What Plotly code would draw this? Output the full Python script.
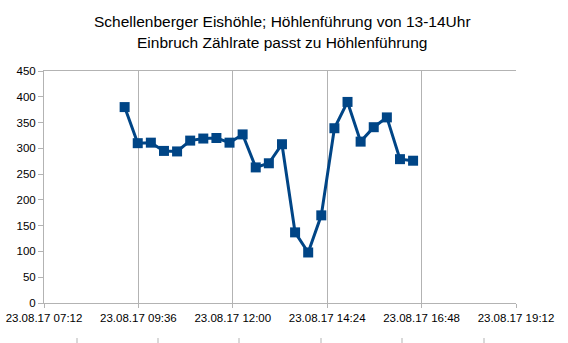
import plotly.graph_objects as go
import pandas as pd

times = ["09:15", "09:35", "09:55", "10:15", "10:35", "10:55", "11:15", "11:35",
         "11:55", "12:15", "12:35", "12:55", "13:15", "13:35", "13:55", "14:15",
         "14:35", "14:55", "15:15", "15:35", "15:55", "16:15", "16:35"]
counts = [380, 310, 311, 295, 294, 315, 319, 320, 311, 327, 263, 271, 308,
          137, 98, 170, 339, 390, 313, 341, 360, 279, 276]
tick_times = ["07:12", "09:36", "12:00", "14:24", "16:48", "19:12"]
tick_labels = ["23.08.17 " + t for t in tick_times]
title_lines = ["Schellenberger Eishöhle; Höhlenführung von 13-14Uhr",
               "Einbruch Zählrate passt zu Höhlenführung"]

x = pd.to_datetime(["2017-08-23 " + t for t in times])
tickvals = pd.to_datetime(["2017-08-23 " + t for t in tick_times])

fig = go.Figure()
fig.add_trace(go.Scatter(
    x=x, y=counts, mode="lines+markers",
    line=dict(color="#004586", width=3),
    marker=dict(symbol="square", size=10, color="#004586"),
))

font = "Liberation Sans, Arial, sans-serif"
L, R, T, B = 44, 52, 71, 40
W, H = 568, 343
pw, ph = W - L - R, H - T - B

fig.update_layout(
    width=W, height=H,
    margin=dict(l=L, r=R, t=T, b=B, autoexpand=False),
    paper_bgcolor="white", plot_bgcolor="white",
    showlegend=False,
    font=dict(family=font, size=12, color="#000000"),
    xaxis=dict(
        range=[tickvals[0], tickvals[-1]],
        tickvals=tickvals, ticktext=tick_labels,
        showgrid=True, gridcolor="#b3b3b3", gridwidth=1,
        showline=True, linecolor="#b3b3b3", linewidth=1, mirror=True,
        ticks="outside", ticklen=4, tickcolor="#b3b3b3",
        tickfont=dict(family=font, size=11.5),
        zeroline=False, automargin=False,
    ),
    yaxis=dict(
        range=[0, 450], dtick=50, tick0=0,
        showgrid=False,
        showline=True, linecolor="#b3b3b3", linewidth=1,
        ticks="outside", ticklen=5, tickcolor="#b3b3b3",
        tickfont=dict(family=font, size=11.5),
        zeroline=False, automargin=False,
    ),
)

for i, (txt, cy) in enumerate(zip(title_lines, [22, 42])):
    fig.add_annotation(text=txt, xref="paper", yref="paper",
                       x=(282 - L) / pw, y=(H - B - cy) / ph,
                       xanchor="center", yanchor="middle", showarrow=False,
                       font=dict(family=font, size=15.5, color="#000000"))

# small separator marks at the bottom edge of the picture
for px in [77, 158, 239, 321, 402, 484]:
    fig.add_shape(type="line", xref="paper", yref="paper",
                  x0=(px - L) / pw, x1=(px - L) / pw,
                  y0=-(338 - (H - B)) / ph, y1=-(343 - (H - B)) / ph,
                  line=dict(color="#b3b3b3", width=1))

fig.write_html("out.html")
